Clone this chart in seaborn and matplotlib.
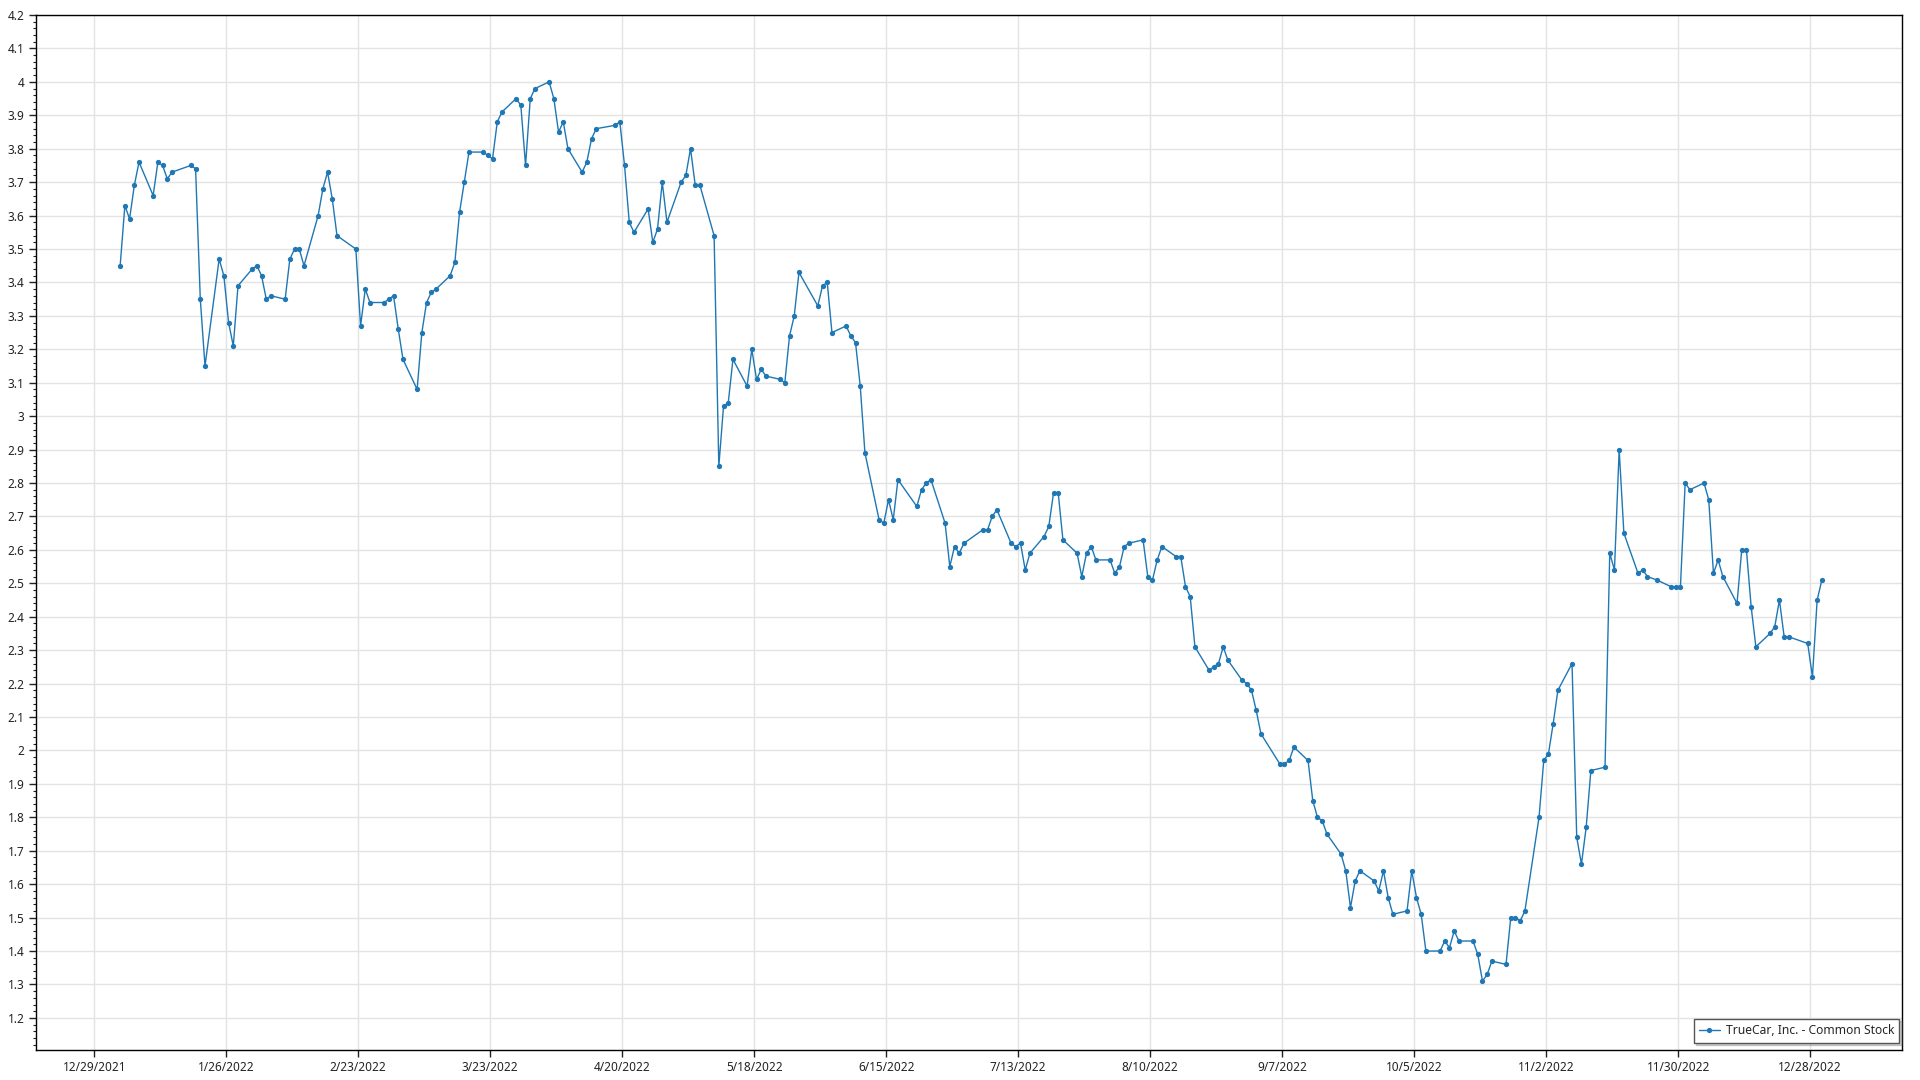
import pandas as pd
import seaborn as sns
import matplotlib.pyplot as plt
import matplotlib.ticker as mticker

# closing prices, one list per month of 2022
jan = [3.45, 3.63, 3.59, 3.69, 3.76, 3.66, 3.76, 3.75, 3.71, 3.73, 3.75, 3.74, 3.35, 3.15, 3.47, 3.42, 3.28, 3.21, 3.39, 3.44]
feb = [3.45, 3.42, 3.35, 3.36, 3.35, 3.47, 3.50, 3.50, 3.45, 3.60, 3.68, 3.73, 3.65, 3.54, 3.50, 3.27, 3.38, 3.34, 3.34]
mar = [3.35, 3.36, 3.26, 3.17, 3.08, 3.25, 3.34, 3.37, 3.38, 3.42, 3.46, 3.61, 3.70, 3.79, 3.79, 3.78, 3.77, 3.88, 3.91, 3.95, 3.93, 3.75, 3.95]
apr = [3.98, 4.00, 3.95, 3.85, 3.88, 3.80, 3.73, 3.76, 3.83, 3.86, 3.87, 3.88, 3.75, 3.58, 3.55, 3.62, 3.52, 3.56, 3.70, 3.58]
may = [3.70, 3.72, 3.80, 3.69, 3.69, 3.54, 2.85, 3.03, 3.04, 3.17, 3.09, 3.20, 3.11, 3.14, 3.12, 3.11, 3.10, 3.24, 3.30, 3.43, 3.33]
jun = [3.39, 3.40, 3.25, 3.27, 3.24, 3.22, 3.09, 2.89, 2.69, 2.68, 2.75, 2.69, 2.81, 2.73, 2.78, 2.80, 2.81, 2.68, 2.55, 2.61, 2.59]
jul = [2.62, 2.66, 2.66, 2.70, 2.72, 2.62, 2.61, 2.62, 2.54, 2.59, 2.64, 2.67, 2.77, 2.77, 2.63, 2.59, 2.52, 2.59, 2.61, 2.57]
aug = [2.57, 2.53, 2.55, 2.61, 2.62, 2.63, 2.52, 2.51, 2.57, 2.61, 2.58, 2.58, 2.49, 2.46, 2.31, 2.24, 2.25, 2.26, 2.31, 2.27, 2.21, 2.20, 2.18]
sep = [2.12, 2.05, 1.96, 1.96, 1.97, 2.01, 1.97, 1.85, 1.80, 1.79, 1.75, 1.69, 1.64, 1.53, 1.61, 1.64, 1.61, 1.58, 1.64, 1.56, 1.51]
oct = [1.52, 1.64, 1.56, 1.51, 1.40, 1.40, 1.43, 1.41, 1.46, 1.43, 1.43, 1.39, 1.31, 1.33, 1.37, 1.36, 1.50, 1.50, 1.49, 1.52, 1.80]
nov = [1.97, 1.99, 2.08, 2.18, 2.26, 1.74, 1.66, 1.77, 1.94, 1.95, 2.59, 2.54, 2.90, 2.65, 2.53, 2.54, 2.52, 2.51, 2.49, 2.49, 2.49]
dec = [2.80, 2.78, 2.80, 2.75, 2.53, 2.57, 2.52, 2.44, 2.60, 2.60, 2.43, 2.31, 2.35, 2.37, 2.45, 2.34, 2.34, 2.32, 2.22, 2.45, 2.51]

# market holidays 2022 (no trading)
holidays = ["2022-01-17", "2022-02-21", "2022-04-15", "2022-05-30", "2022-06-20",
            "2022-07-04", "2022-09-05", "2022-11-24", "2022-12-26"]

series_name = "TrueCar, Inc. - Common Stock"

tick_dates = ["2021-12-29", "2022-01-26", "2022-02-23", "2022-03-23", "2022-04-20", "2022-05-18",
              "2022-06-15", "2022-07-13", "2022-08-10", "2022-09-07", "2022-10-05", "2022-11-02",
              "2022-11-30", "2022-12-28"]
tick_labels = ["12/29/2021", "1/26/2022", "2/23/2022", "3/23/2022", "4/20/2022", "5/18/2022",
               "6/15/2022", "7/13/2022", "8/10/2022", "9/7/2022", "10/5/2022", "11/2/2022",
               "11/30/2022", "12/28/2022"]

values = jan + feb + mar + apr + may + jun + jul + aug + sep + oct + nov + dec
# points sit around midday of each trading day
dates = pd.bdate_range("2022-01-03", "2022-12-30", freq="C", holidays=holidays) + pd.Timedelta(hours=12)
df = pd.DataFrame({"date": dates, "close": values})

sns.set_style("white")
plt.rcParams['font.family'] = ['Noto Sans', 'DejaVu Sans']

fig = plt.figure(figsize=(19.2, 10.8), dpi=100)
ax = fig.add_axes([35.7/1920, 30/1080, (1902-35.7)/1920, 1035/1080])

sns.lineplot(data=df, x="date", y="close", ax=ax, color="#1f77b4", linewidth=1.0,
             marker="o", markersize=3.8, markeredgewidth=0, label=series_name)

ax.set_xlim(pd.Timestamp("2021-12-16 14:00"), pd.Timestamp("2023-01-16 12:00"))
ax.set_ylim(1.104, 4.2)

ax.set_xticks(pd.to_datetime(tick_dates))
ax.set_xticklabels(tick_labels)
ax.yaxis.set_major_locator(mticker.MultipleLocator(0.1))
ax.yaxis.set_minor_locator(mticker.MultipleLocator(0.02))
ax.yaxis.set_major_formatter(mticker.FuncFormatter(lambda v, p: "%g" % round(v, 2)))

ax.grid(True, which="major", color="#e3e3e3", linewidth=1.0)
ax.set_axisbelow(True)
ax.tick_params(axis="both", which="major", direction="out", length=5, width=1,
               labelsize=8.5, colors="#222222", pad=3, left=True, bottom=True)
ax.tick_params(axis="y", which="minor", direction="out", length=2.5, width=0.8, left=True, color="#222222")
for s in ax.spines.values():
    s.set_color("black")
    s.set_linewidth(1.0)

ax.set_xlabel("")
ax.set_ylabel("")

leg = ax.legend(loc="lower right", bbox_to_anchor=(1 - 2.5/1866, 7.5/1035), borderaxespad=0,
                frameon=True, fancybox=False, edgecolor="#555555", framealpha=1,
                fontsize=8.7, handlelength=1.7, handletextpad=0.5, borderpad=0.45,
                shadow={"ox": 1.5, "oy": -1.5, "alpha": 0.25})
leg.get_frame().set_linewidth(1.0)

fig.savefig("out.png", dpi=100)
